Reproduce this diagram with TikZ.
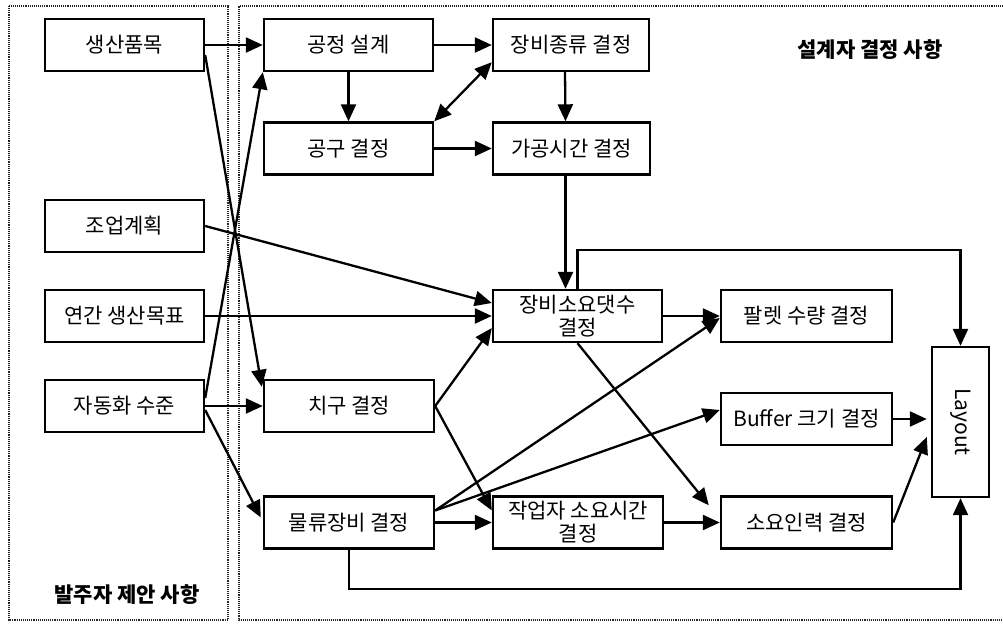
\documentclass[tikz,border=0pt]{standalone}
\usepackage{fontspec}
\setmainfont{Noto Sans CJK KR}
\usetikzlibrary{arrows.meta,calc,positioning}
\tikzset{
  plan box/.style={draw,line width=2.4pt,minimum width=159pt,minimum height=52pt,inner sep=0pt,align=center,font=\fontsize{21}{23}\selectfont},
  plan edge/.style={-{Triangle[length=17pt,width=15pt]},line width=2.3pt},
  plan both/.style={{Triangle[length=17pt,width=15pt]}-{Triangle[length=17pt,width=15pt]},line width=2.3pt},
  region frame/.style={densely dotted,line width=1.1pt,black!85},
  region title/.style={font=\fontsize{21}{23}\selectfont\bfseries},
}
\begin{document}
\begin{tikzpicture}[x=1pt,y=-1pt]
  \useasboundingbox (0,0) rectangle (1003,624);
  % frames
  \draw[region frame] (9,6) rectangle (228,620);
  \draw[region frame] (1003,6) -- (239,6) -- (239,620) -- (1003,620);
  \node[region title] (clienttitle) at (127,595) {발주자 제안 사항};
  \node[region title] (designtitle) at (870,50) {설계자 결정 사항};
  % client side
  \node[plan box] (sangsan) at (124.5,45) {생산품목};
  \node[plan box] (jooeop) at (124.5,226) {조업계획};
  \node[plan box] (yeongan) at (124.5,316) {연간 생산목표};
  \node[plan box] (jadong) at (124.5,406) {자동화 수준};
  % designer side
  \node[plan box,minimum width=169pt] (gongjeong) at (348.5,45) {공정 설계};
  \node[plan box,minimum width=169pt] (gonggu) at (348.5,148.5) {공구 결정};
  \node[plan box,minimum width=170pt] (chigu) at (349,406) {치구 결정};
  \node[plan box,minimum width=170pt] (mulryu) at (349,522.5) {물류장비 결정};
  \node[plan box,minimum width=156pt] (jongryu) at (571,45) {장비종류 결정};
  \node[plan box,minimum width=157pt] (gagong) at (571.5,148.5) {가공시간 결정};
  \node[plan box,minimum width=169pt] (jangbi) at (577.5,316) {장비소요댓수\\결정};
  \node[plan box,minimum width=170pt] (jakeop) at (578,522.5) {작업자 소요시간\\결정};
  \node[plan box,minimum width=171pt] (palet) at (806.5,316) {팔렛 수량 결정};
  \node[plan box,minimum width=171pt] (buffer) at (806.5,419) {Buffer 크기 결정};
  \node[plan box,minimum width=171pt] (soyo) at (806.5,522.5) {소요인력 결정};
  \node[plan box,minimum width=57pt,minimum height=150pt] (layout) at (960.5,422) {};
  \node[rotate=-90,font=\fontsize{21}{23}\selectfont] (layouttext) at (layout.center) {Layout};
  % connectors
  \draw[plan edge] (sangsan) -- (gongjeong);
  \draw[plan edge] ($(sangsan.east)+(0,10)$) -- ($(chigu.north west)+(-1,8)$);
  \draw[plan edge] ($(jadong.east)+(0,-8)$) -- (gongjeong.south west);
  \draw[plan edge] (jooeop.east) -- ($(jangbi.west)+(0,-13)$);
  \draw[plan edge] (yeongan) -- (jangbi);
  \draw[plan edge] (jadong) -- (chigu);
  \draw[plan edge] ($(jadong.east)+(0,4)$) -- ($(mulryu.west)+(-2,-5)$);
  \draw[plan edge] (gongjeong) -- (jongryu);
  \draw[plan edge] (gongjeong) -- (gonggu);
  \draw[plan both] (gonggu.north east) -- ($(jongryu.south west)+(0,-10)$);
  \draw[plan edge] (gonggu) -- (gagong);
  \draw[plan edge] ($(jongryu.south)+(-6,0)$) -- ($(gagong.north)+(-6,0)$);
  \draw[plan edge] ($(gagong.south)+(-6,0)$) -- ($(gagong.south |- jangbi.north)+(-6,0)$);
  \draw[plan edge] (jangbi.north) -- ++(0,-39) -| (layout.north);
  \draw[plan edge] (jangbi) -- (palet);
  \draw[plan edge] (chigu.east) -- ($(jangbi.west)+(0,12)$);
  \draw[plan edge] (chigu.east) -- ($(jakeop.west)+(0,-12)$);
  \draw[plan edge] ($(mulryu.east)+(0,-12)$) -- ($(palet.west)+(0,2)$);
  \draw[plan edge] ($(mulryu.east)+(0,-12)$) -- ($(buffer.west)+(0,-9)$);
  \draw[plan edge] (mulryu) -- (jakeop);
  \draw[plan edge] (jakeop) -- (soyo);
  \draw[plan edge] (jangbi.south) -- ($(soyo.north west)+(-11,10)$);
  \draw[plan edge] (buffer.east) -- ($(buffer.east -| layout.west)+(-4,0)$);
  \draw[plan edge] (soyo.east) -- ($(layout.west)+(-4,15)$);
  \draw[plan edge] (mulryu.south) -- ++(0,39) -| (layout.south);
\end{tikzpicture}
\end{document}
